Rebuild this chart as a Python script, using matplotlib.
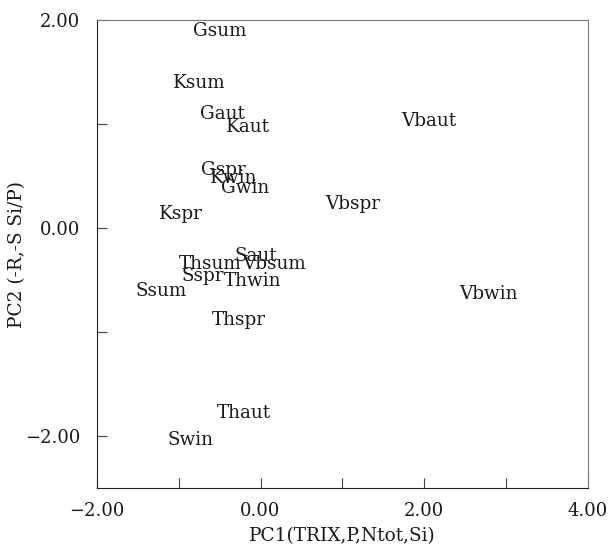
import matplotlib.pyplot as plt

plt.rcParams['font.family'] = ['DejaVu Serif']

# sample labels and their PCA scores
labels = ['Gsum', 'Ksum', 'Gaut', 'Kaut', 'Vbaut', 'Gspr', 'Kwin', 'Gwin', 'Vbspr', 'Kspr',
          'Saut', 'Thsum', 'Vbsum', 'Sspr', 'Thwin', 'Ssum', 'Vbwin', 'Thspr', 'Thaut', 'Swin']
pc1 = [-0.50, -0.75, -0.46, -0.15, 2.06, -0.46, -0.33, -0.19, 1.13, -0.97,
       -0.06, -0.62, 0.16, -0.70, -0.10, -1.21, 2.79, -0.27, -0.20, -0.86]
pc2 = [1.89, 1.39, 1.10, 0.97, 1.03, 0.56, 0.48, 0.38, 0.23, 0.13,
       -0.27, -0.35, -0.35, -0.46, -0.51, -0.61, -0.63, -0.88, -1.78, -2.04]

fig = plt.figure(figsize=(6.13, 5.5), dpi=100)
ax = fig.add_axes([0.158, 0.1127, 0.801, 0.8509])

for lab, x, y in zip(labels, pc1, pc2):
    ax.text(x, y, lab, ha='center', va='center', fontsize=13.2, color='#1a1a1a')

ax.set_xlim(-2, 4)
ax.set_ylim(-2.5, 2)
ax.set_xticks([-2, -1, 0, 1, 2, 3, 4])
ax.set_xticklabels(['\u22122.00', '', '0.00', '', '2.00', '', '4.00'])
ax.set_yticks([-2, -1, 0, 1, 2])
ax.set_yticklabels(['\u22122.00', '', '0.00', '', '2.00'])
ax.tick_params(direction='in', length=7, width=0.8, labelsize=13, pad=12,
               color='#444444', labelcolor='#1a1a1a')
ax.tick_params(axis='x', pad=10)

for side in ['top', 'right']:
    ax.spines[side].set_color('#777777')
for side in ['left', 'bottom']:
    ax.spines[side].set_color('#222222')

ax.set_xlabel('PC1(TRIX,P,Ntot,Si)', fontsize=13.3, labelpad=5, color='#1a1a1a')
ax.set_ylabel('PC2 (-R,-S Si/P)', fontsize=13.3, color='#1a1a1a')
ax.yaxis.set_label_coords(-0.145, 0.5)

fig.savefig('out.png', dpi=100)
